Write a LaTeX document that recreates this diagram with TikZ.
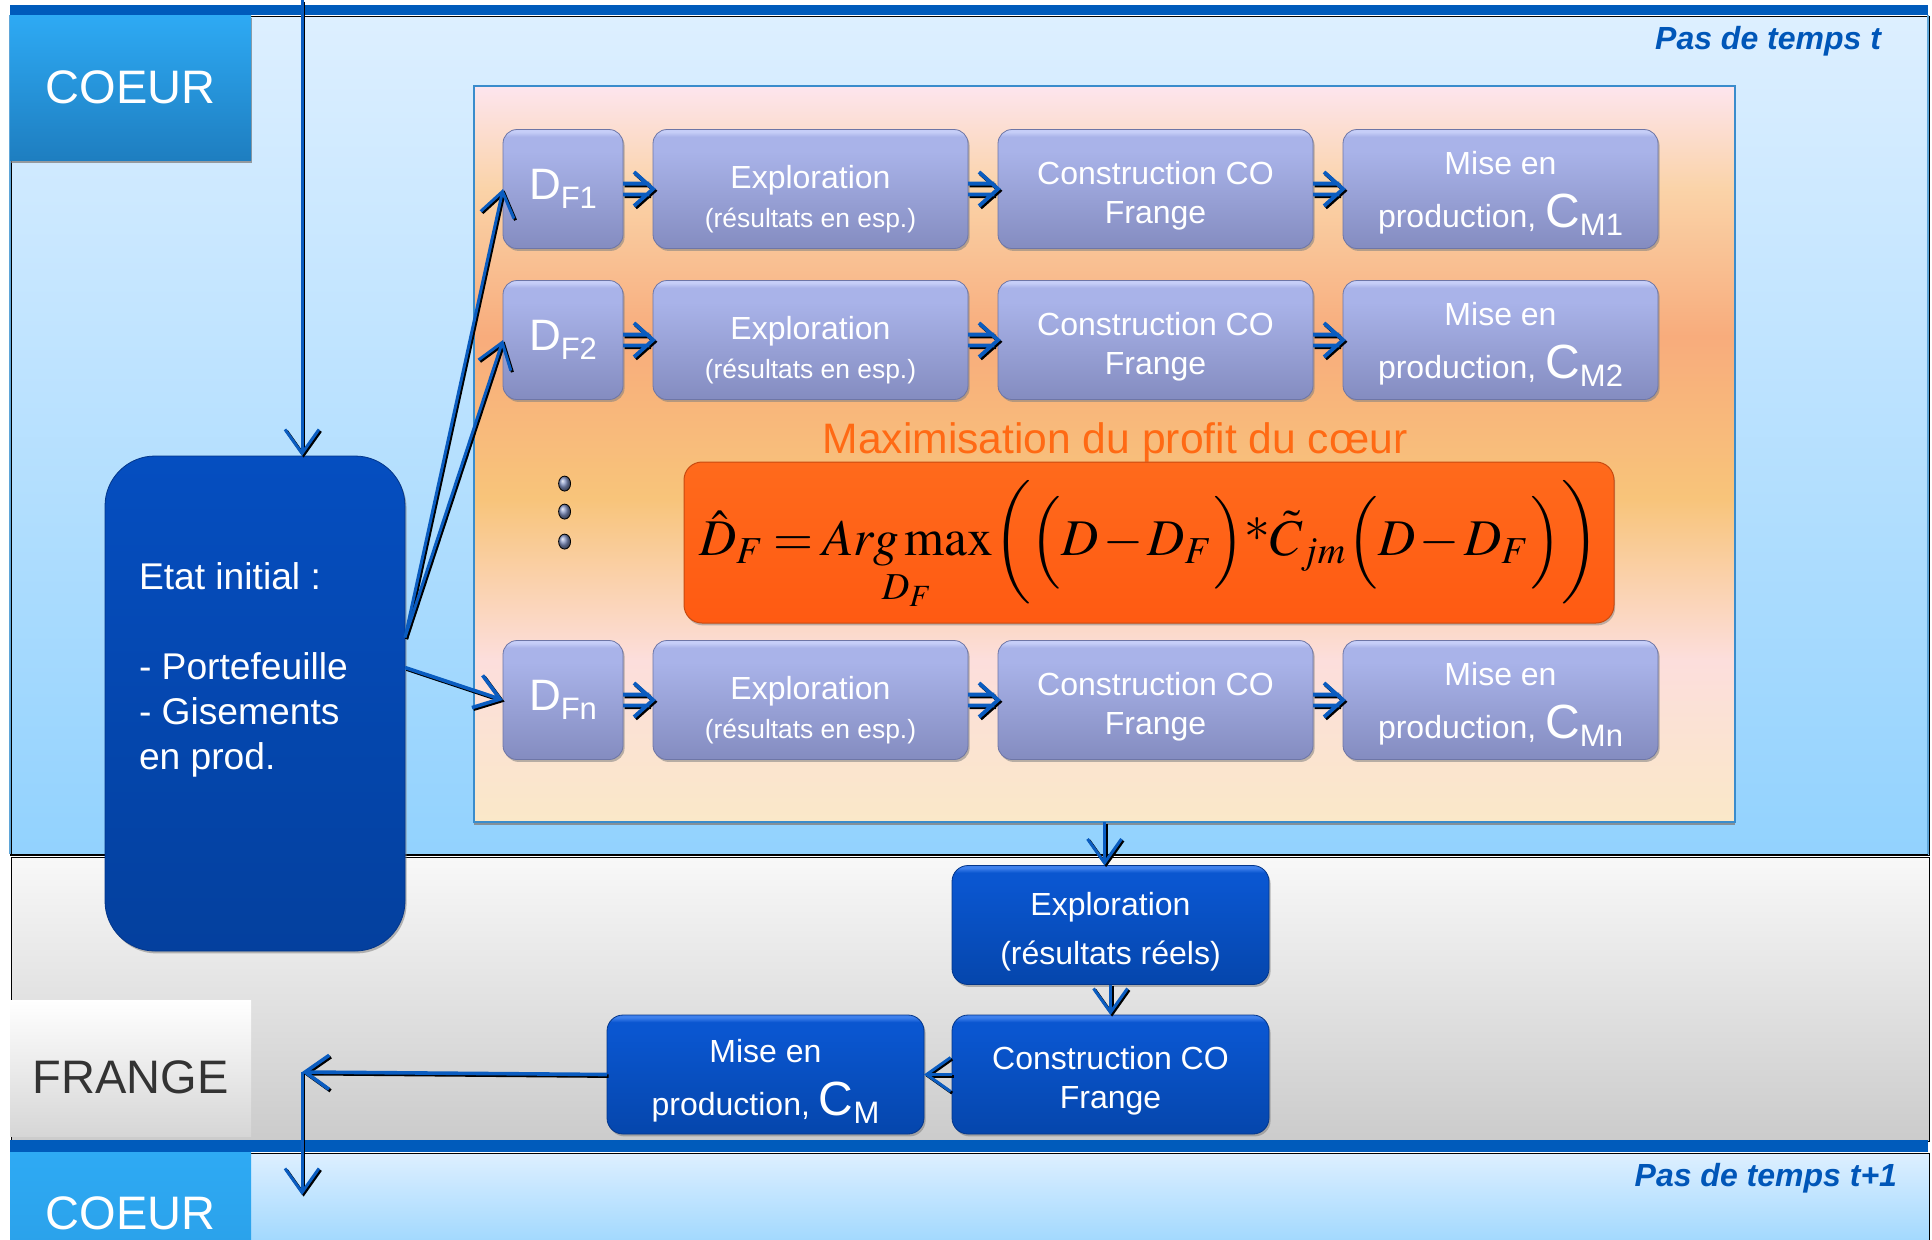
\documentclass[tikz,border=0pt]{standalone}
\usepackage{amsmath}
\usepackage{graphicx}
\usepackage{mathptmx}
\usepackage[no-math]{fontspec}
\setmainfont{Liberation Sans}
\usetikzlibrary{arrows.meta,shadows,calc}

% palette
\definecolor{barblue}{HTML}{005BBB}
\definecolor{arrowblue}{HTML}{0A5CC0}
\definecolor{tpTop}{HTML}{DDEFFF}
\definecolor{tpBot}{HTML}{92D2FE}
\definecolor{tpEdge}{HTML}{5FA6D8}
\definecolor{greyTop}{HTML}{F8F8F8}
\definecolor{greyBot}{HTML}{CBCBCB}
\definecolor{coeurTop}{HTML}{2EAAF4}
\definecolor{coeurBot}{HTML}{1E7EC0}
\definecolor{lavHi}{HTML}{C6CEF8}
\definecolor{lavTop}{HTML}{A9B3E9}
\definecolor{lavBot}{HTML}{848CC0}
\definecolor{lavEdge}{HTML}{6E76A6}
\definecolor{bbHi}{HTML}{3E80EC}
\definecolor{bbTop}{HTML}{0A56D0}
\definecolor{bbBot}{HTML}{0546AC}
\definecolor{bbEdge}{HTML}{03368A}
\definecolor{etTop}{HTML}{054EC0}
\definecolor{etBot}{HTML}{04409E}
\definecolor{fmTop}{HTML}{FF6A1C}
\definecolor{fmBot}{HTML}{FF5A12}
\definecolor{fmEdge}{HTML}{C84A10}
\definecolor{maxText}{HTML}{FF6A14}
\definecolor{pasText}{HTML}{0056B8}
\definecolor{opTop}{HTML}{FDE5EE}
\definecolor{opPeach}{HTML}{FAD3A8}
\definecolor{opSalmon}{HTML}{F8AC7C}
\definecolor{opGold}{HTML}{F8C47A}
\definecolor{opPink}{HTML}{FCDEDC}
\definecolor{opBot}{HTML}{FAE8C8}
\definecolor{opEdge}{HTML}{3A8CCC}
\definecolor{dotCol}{HTML}{8090C0}
\definecolor{frTop}{HTML}{FFFFFF}
\definecolor{frBot}{HTML}{D6D6D6}
\definecolor{frText}{HTML}{333333}

% multi-stop vertical shadings (25bp = bottom of the path, 75bp = top)
\pgfdeclareverticalshading{orangepanel}{100bp}{color(0bp)=(opBot); color(25bp)=(opBot); color(36bp)=(opPink); color(47bp)=(opGold); color(58bp)=(opSalmon); color(68bp)=(opPeach); color(75bp)=(opTop); color(100bp)=(opTop)}
\pgfdeclareverticalshading{lavshade}{100bp}{color(0bp)=(lavBot); color(25bp)=(lavBot); color(66bp)=(lavTop); color(72bp)=(lavTop); color(74bp)=(lavHi); color(75bp)=(lavHi); color(100bp)=(lavHi)}
\pgfdeclareverticalshading{blueshade}{100bp}{color(0bp)=(bbBot); color(25bp)=(bbBot); color(68bp)=(bbTop); color(72bp)=(bbTop); color(74bp)=(bbHi); color(75bp)=(bbHi); color(100bp)=(bbHi)}

% labels with large letter and subscript
\newcommand\dsub[1]{{\fontsize{22}{24}\selectfont D}\raisebox{-4.3pt}{\fontsize{15.5}{17}\selectfont #1}}
\newcommand\csub[1]{{\fontsize{24}{26}\selectfont C}\raisebox{-4pt}{\fontsize{15.5}{17}\selectfont #1}}
% taller first line: pushes a centred multi-line text down by #1
\newcommand\lowerby[1]{\rule{0pt}{\dimexpr 12pt+#1*2\relax}}
\newcommand\fmla{\medmuskip=1.5mu\thickmuskip=3mu$\displaystyle \hat{D}_F = \smash[b]{\mathop{Arg\,\mathrm{max}}\limits_{D_F}}\biggl(\Bigl(D - D_F\Bigr)\mathord{\raisebox{0.5ex}{$\ast$}}\tilde{C}_{jm}\Bigl(D - D_F\Bigr)\biggr)$}
% a connector with a dark offset copy underneath
\newcommand\linkpair[4]{\draw[#1,#2] #3 -- #4; \draw[#1] #3 -- #4;}
% double-shaft arrow with an open chevron head, from node #1 to node #2
\newcommand\dblpath[2]{([yshift=2.7pt]#1.east) -- ([xshift=-1.8pt,yshift=2.7pt]#2.west)
  ([yshift=-2.7pt]#1.east) -- ([xshift=-1.8pt,yshift=-2.7pt]#2.west)
  ([xshift=-9.5pt,yshift=8.5pt]#2.west) -- (#2.west) -- ([xshift=-9.5pt,yshift=-8.5pt]#2.west)}
\newcommand\dbllink[2]{\draw[dblink, draw=black, transform canvas={xshift=0.8pt,yshift=-0.9pt}] \dblpath{#1}{#2};
  \draw[dblink] \dblpath{#1}{#2};}

\begin{document}
\begin{tikzpicture}[x=0.5pt,y=-0.5pt,
  every node/.style={inner sep=0pt, outer sep=0pt},
  boxshadow/.style={drop shadow={shadow xshift=0.8pt, shadow yshift=-1.2pt, opacity=0.55}},
  lavbox/.style={rounded corners=7pt, shading=lavshade, draw=lavEdge, line width=0.4pt,
    text=white, align=center, boxshadow, minimum height=59.5pt,
    font=\fontsize{16}{19.5}\selectfont},
  dbox/.style={lavbox, minimum width=60pt},
  wbox/.style={lavbox, minimum width=157.5pt},
  bluebox/.style={rounded corners=8pt, shading=blueshade, draw=bbEdge, line width=0.4pt,
    text=white, align=center, boxshadow, minimum width=158.5pt, minimum height=59.5pt,
    font=\fontsize{16}{19.5}\selectfont},
  conn/.style={draw=arrowblue, line width=1.8pt, -{Straight Barb[length=12pt,width=17pt]}},
  thinconn/.style={conn, line width=1.5pt},
  dblink/.style={draw=arrowblue, line width=1.9pt, line join=miter, line cap=butt},
  shade/.style={draw=black, transform canvas={xshift=0.8pt,yshift=-0.8pt}},
  sidelabel/.style={text=white, font=\fontsize{23.5}{26}\selectfont}
]
\useasboundingbox (0,0) rectangle (1932,1239);
\fill[white] (0,0) rectangle (1932,1239);

% time step t: upper band
\shade[top color=tpTop, bottom color=tpBot] (10,15) rectangle (1928,854);
\draw[tpEdge, line width=0.6pt] (10,15) -- (10,854) (1928,15) -- (1928,854);
\fill[barblue] (10,5) rectangle (1928,15);
\draw[black, line width=1.2pt] (10,855) -- (1928,855);

% fringe band
\shade[top color=greyTop, bottom color=greyBot] (10,856) rectangle (1928,1140);
% time step t+1
\shade[top color=tpTop, bottom color=tpBot!85!white] (10,1152) rectangle (1928,1239);
\fill[barblue] (10,1140) rectangle (1928,1152);

% side labels
\node[rectangle, top color=coeurTop, bottom color=coeurBot, drop shadow={shadow xshift=0.5pt, shadow yshift=-1.5pt, opacity=0.75},
  minimum width=120.5pt, minimum height=72.5pt, sidelabel] (coeurA) at (130.5,87.5) {COEUR};
\node[rectangle, top color=frTop, bottom color=frBot, minimum width=120.5pt, minimum height=68pt,
  sidelabel, text=frText, text height=25.8pt, text depth=0pt] (frange) at (130.5,1068) {FRANGE};
\node[rectangle, top color=coeurTop, bottom color=coeurTop!80!coeurBot,
  minimum width=120.5pt, minimum height=50pt, sidelabel] (coeurB) at (130.5,1202) {};
\node[sidelabel, anchor=base] at (130.5,1229) {COEUR};

\node[anchor=east, text=pasText, font=\fontsize{16}{18}\selectfont\bfseries\itshape] (pasA) at (1881,41) {Pas de temps t};
\node[anchor=east, text=pasText, font=\fontsize{16}{18}\selectfont\bfseries\itshape] (pasB) at (1897,1178) {Pas de temps t+1};

% optimisation panel
\node[rectangle, shading=orangepanel, draw=opEdge, line width=0.6pt,
  drop shadow={shadow xshift=0pt, shadow yshift=-1.3pt, opacity=0.8},
  minimum width=630.5pt, minimum height=368pt] (panel) at (1104.5,454) {};

% rows of fringe scenarios
\node[dbox] (d1) at (563,189) {\dsub{F1}};
\node[wbox] (e1) at (810.5,189) {\lowerby{5pt}Exploration\\{\fontsize{13.2}{16}\selectfont (résultats en esp.)}};
\node[wbox] (c1) at (1155.5,189) {\lowerby{3pt}Construction CO\\Frange};
\node[wbox] (m1) at (1500.5,189) {\lowerby{2pt}Mise en\\[7pt]production, \csub{M1}};

\node[dbox] (d2) at (563,340) {\dsub{F2}};
\node[wbox] (e2) at (810.5,340) {\lowerby{5pt}Exploration\\{\fontsize{13.2}{16}\selectfont (résultats en esp.)}};
\node[wbox] (c2) at (1155.5,340) {\lowerby{3pt}Construction CO\\Frange};
\node[wbox] (m2) at (1500.5,340) {\lowerby{2pt}Mise en\\[7pt]production, \csub{M2}};

\node[dbox] (dn) at (563,700) {\dsub{Fn}};
\node[wbox] (en) at (810.5,700) {\lowerby{5pt}Exploration\\{\fontsize{13.2}{16}\selectfont (résultats en esp.)}};
\node[wbox] (cn) at (1155.5,700) {\lowerby{3pt}Construction CO\\Frange};
\node[wbox] (mn) at (1500.5,700) {\lowerby{2pt}Mise en\\[7pt]production, \csub{Mn}};

% ellipsis dots
\foreach \yy in {482,510,540}
  \shade[ball color=dotCol] (563,\yy) ellipse [x radius=6, y radius=7.5];

% objective
\node[text=maxText, font=\fontsize{21.3}{24}\selectfont] (maxlabel) at (1115,442) {Maximisation du profit du cœur};
\node[rectangle, rounded corners=9pt, top color=fmTop, bottom color=fmBot, draw=fmEdge, line width=0.5pt,
  drop shadow={shadow xshift=0.6pt, shadow yshift=-1.2pt, opacity=0.5},
  minimum width=465pt, minimum height=80.5pt] (fbox) at (1149,542.5) {\resizebox{450pt}{!}{\fmla}};

% initial state
\node[rectangle, rounded corners=25pt, top color=etTop, bottom color=etBot, draw=bbEdge, line width=0.4pt,
  boxshadow, minimum width=150pt, minimum height=247.5pt,
  label={[anchor=west, xshift=17pt, yshift=16.7pt, align=left, text=white, inner sep=0pt,
    font=\fontsize{18.6}{22.5}\selectfont]west:{Etat initial :\\[22.5pt]- Portefeuille\\- Gisements\\en prod.}}]
  (etat) at (255,703.5) {};

% realised fringe path
\node[bluebox] (expr) at (1110.5,925) {\lowerby{3pt}Exploration\\[5pt](résultats réels)};
\node[bluebox] (consb) at (1110.5,1074.5) {\lowerby{3pt}Construction CO\\Frange};
\node[bluebox] (miseb) at (765.5,1074.5) {\lowerby{3pt}Mise en\\[7pt]production, \csub{M}};

\coordinate (entry) at (302,0);
\coordinate (turn) at (302,1072);
\coordinate (next) at (302,1195);

% connectors
\linkpair{thinconn}{shade}{(entry)}{(entry |- etat.north)}
\linkpair{thinconn}{shade}{([yshift=33pt]etat.east)}{(d1.west)}
\linkpair{thinconn}{shade}{([yshift=33pt]etat.east)}{(d2.west)}
\linkpair{conn}{shade}{([yshift=18pt]etat.east)}{(dn.west)}

\dbllink{d1}{e1} \dbllink{e1}{c1} \dbllink{c1}{m1}
\dbllink{d2}{e2} \dbllink{e2}{c2} \dbllink{c2}{m2}
\dbllink{dn}{en} \dbllink{en}{cn} \dbllink{cn}{mn}

\linkpair{thinconn}{shade}{(panel.south)}{(panel.south |- expr.north)}
\linkpair{thinconn}{shade}{(expr.south)}{(consb.north)}
\linkpair{thinconn}{shade}{(consb.west)}{(miseb.east)}
\linkpair{conn}{shade}{(miseb.west)}{(turn)}
\linkpair{thinconn}{shade}{(turn)}{(next)}
\end{tikzpicture}
\end{document}
